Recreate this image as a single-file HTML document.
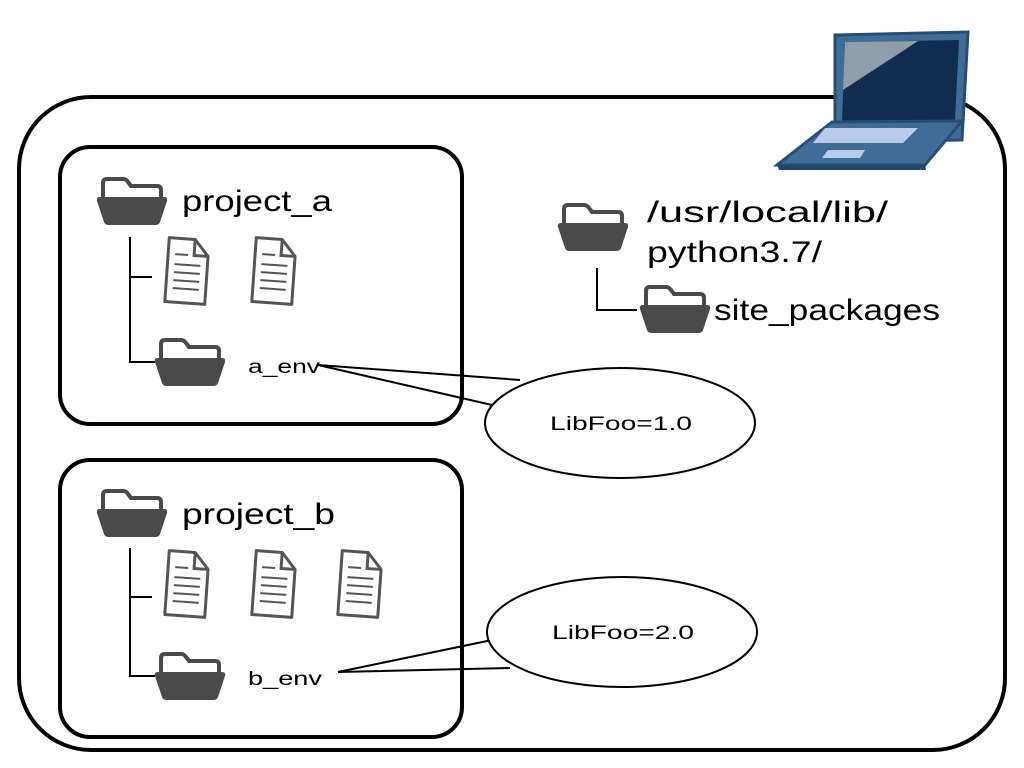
<!DOCTYPE html>
<html><head><meta charset="utf-8"><style>
html,body{margin:0;padding:0;background:#fff;}
svg{display:block;}
text{font-family:"Liberation Sans",sans-serif;fill:#000;}
</style></head><body>
<svg width="1024" height="768" viewBox="0 0 1024 768" xmlns="http://www.w3.org/2000/svg">
<defs>
<g id="fold">
 <path d="M6,24 V6 Q6,2 10,2 H26 Q29,2 31,5 L34,9 H60 Q64,9 64,13 V26" fill="#fff" stroke="#4a4a4a" stroke-width="4"/>
 <path d="M3,20 H67 Q71,20 70,24 L63,45 Q62,48 58,48 H12 Q8,48 7,45 L0,24 Q-1,20 3,20 Z" fill="#4a4a4a"/>
</g>
<g id="file">
 <g transform="rotate(4 22 34)">
 <path d="M2,2 H28 L42,18 V66 H2 Z" fill="#fff" stroke="#555" stroke-width="3" stroke-linejoin="round"/>
 <path d="M28,2 V18 H42" fill="none" stroke="#555" stroke-width="3"/>
 <path d="M9,18 H22 M9,28 H35 M9,36 H35 M9,44 H35 M9,52 H35" stroke="#555" stroke-width="2"/>
 </g>
</g>
</defs>
<rect x="19" y="97" width="986" height="653" rx="72" fill="none" stroke="#000" stroke-width="4"/>
<rect x="60" y="147" width="402" height="277" rx="30" fill="none" stroke="#000" stroke-width="4"/>
<rect x="60" y="460" width="402" height="277" rx="30" fill="none" stroke="#000" stroke-width="4"/>

<!-- laptop -->
<g>
 <path d="M835,35 L968,32 L962,140 L835,142 Z" fill="#3f6d9a" stroke="#2a4d74" stroke-width="3"/>
 <path d="M845,42 L959,40 L955,120 L842,122 Z" fill="#0f2d4e"/>
 <path d="M845,42 L918,41 L843,90 Z" fill="#8f9ea8"/>
 <path d="M832,122 L962,121 L925,165 L777,165 Z" fill="#3f6d9a" stroke="#2a4d74" stroke-width="3"/>
 <path d="M825,128 L918,128 L903,143 L813,143 Z" fill="#b8cbe8"/>
 <path d="M828,150 L865,150 L860,158 L822,158 Z" fill="#b8cbe8"/>
 <path d="M777,165 L925,165 L926,170 L779,170 Z" fill="#23476e"/>
</g>

<use href="#fold" x="97" y="177"/>
<text x="182" y="211" font-size="30" textLength="150" lengthAdjust="spacingAndGlyphs">project_a</text>
<path d="M130,237 V362 H155 M130,277 H152" fill="none" stroke="#000" stroke-width="2"/>
<use href="#file" x="165" y="237"/>
<use href="#file" x="252" y="237"/>
<use href="#fold" x="155" y="338"/>
<text x="248" y="373" font-size="19" textLength="72" lengthAdjust="spacingAndGlyphs">a_env</text>

<use href="#fold" x="97" y="489"/>
<text x="182" y="524" font-size="30" textLength="153" lengthAdjust="spacingAndGlyphs">project_b</text>
<path d="M130,548 V676 H155 M130,597 H152" fill="none" stroke="#000" stroke-width="2"/>
<use href="#file" x="165" y="550"/>
<use href="#file" x="252" y="550"/>
<use href="#file" x="338" y="550"/>
<use href="#fold" x="155" y="652"/>
<text x="248" y="685" font-size="19" textLength="74" lengthAdjust="spacingAndGlyphs">b_env</text>

<use href="#fold" x="558" y="203"/>
<text x="647" y="222" font-size="30" textLength="241" lengthAdjust="spacingAndGlyphs">/usr/local/lib/</text>
<text x="647" y="262" font-size="30" textLength="175" lengthAdjust="spacingAndGlyphs">python3.7/</text>
<path d="M597,268 V310 H637" fill="none" stroke="#000" stroke-width="2"/>
<use href="#fold" x="640" y="285"/>
<text x="714" y="320" font-size="30" textLength="226" lengthAdjust="spacingAndGlyphs">site_packages</text>

<path d="M318,365 L520,380 M318,365 L492,405" stroke="#000" stroke-width="2"/>
<ellipse cx="620" cy="423" rx="135" ry="55" fill="#fff" stroke="#000" stroke-width="2"/>
<text x="550" y="430" font-size="19" textLength="142" lengthAdjust="spacingAndGlyphs">LibFoo=1.0</text>
<path d="M338,672 L492,640 M338,672 L510,668" stroke="#000" stroke-width="2"/>
<ellipse cx="622" cy="632" rx="135" ry="55" fill="#fff" stroke="#000" stroke-width="2"/>
<text x="552" y="639" font-size="19" textLength="142" lengthAdjust="spacingAndGlyphs">LibFoo=2.0</text>
</svg>
</body></html>
